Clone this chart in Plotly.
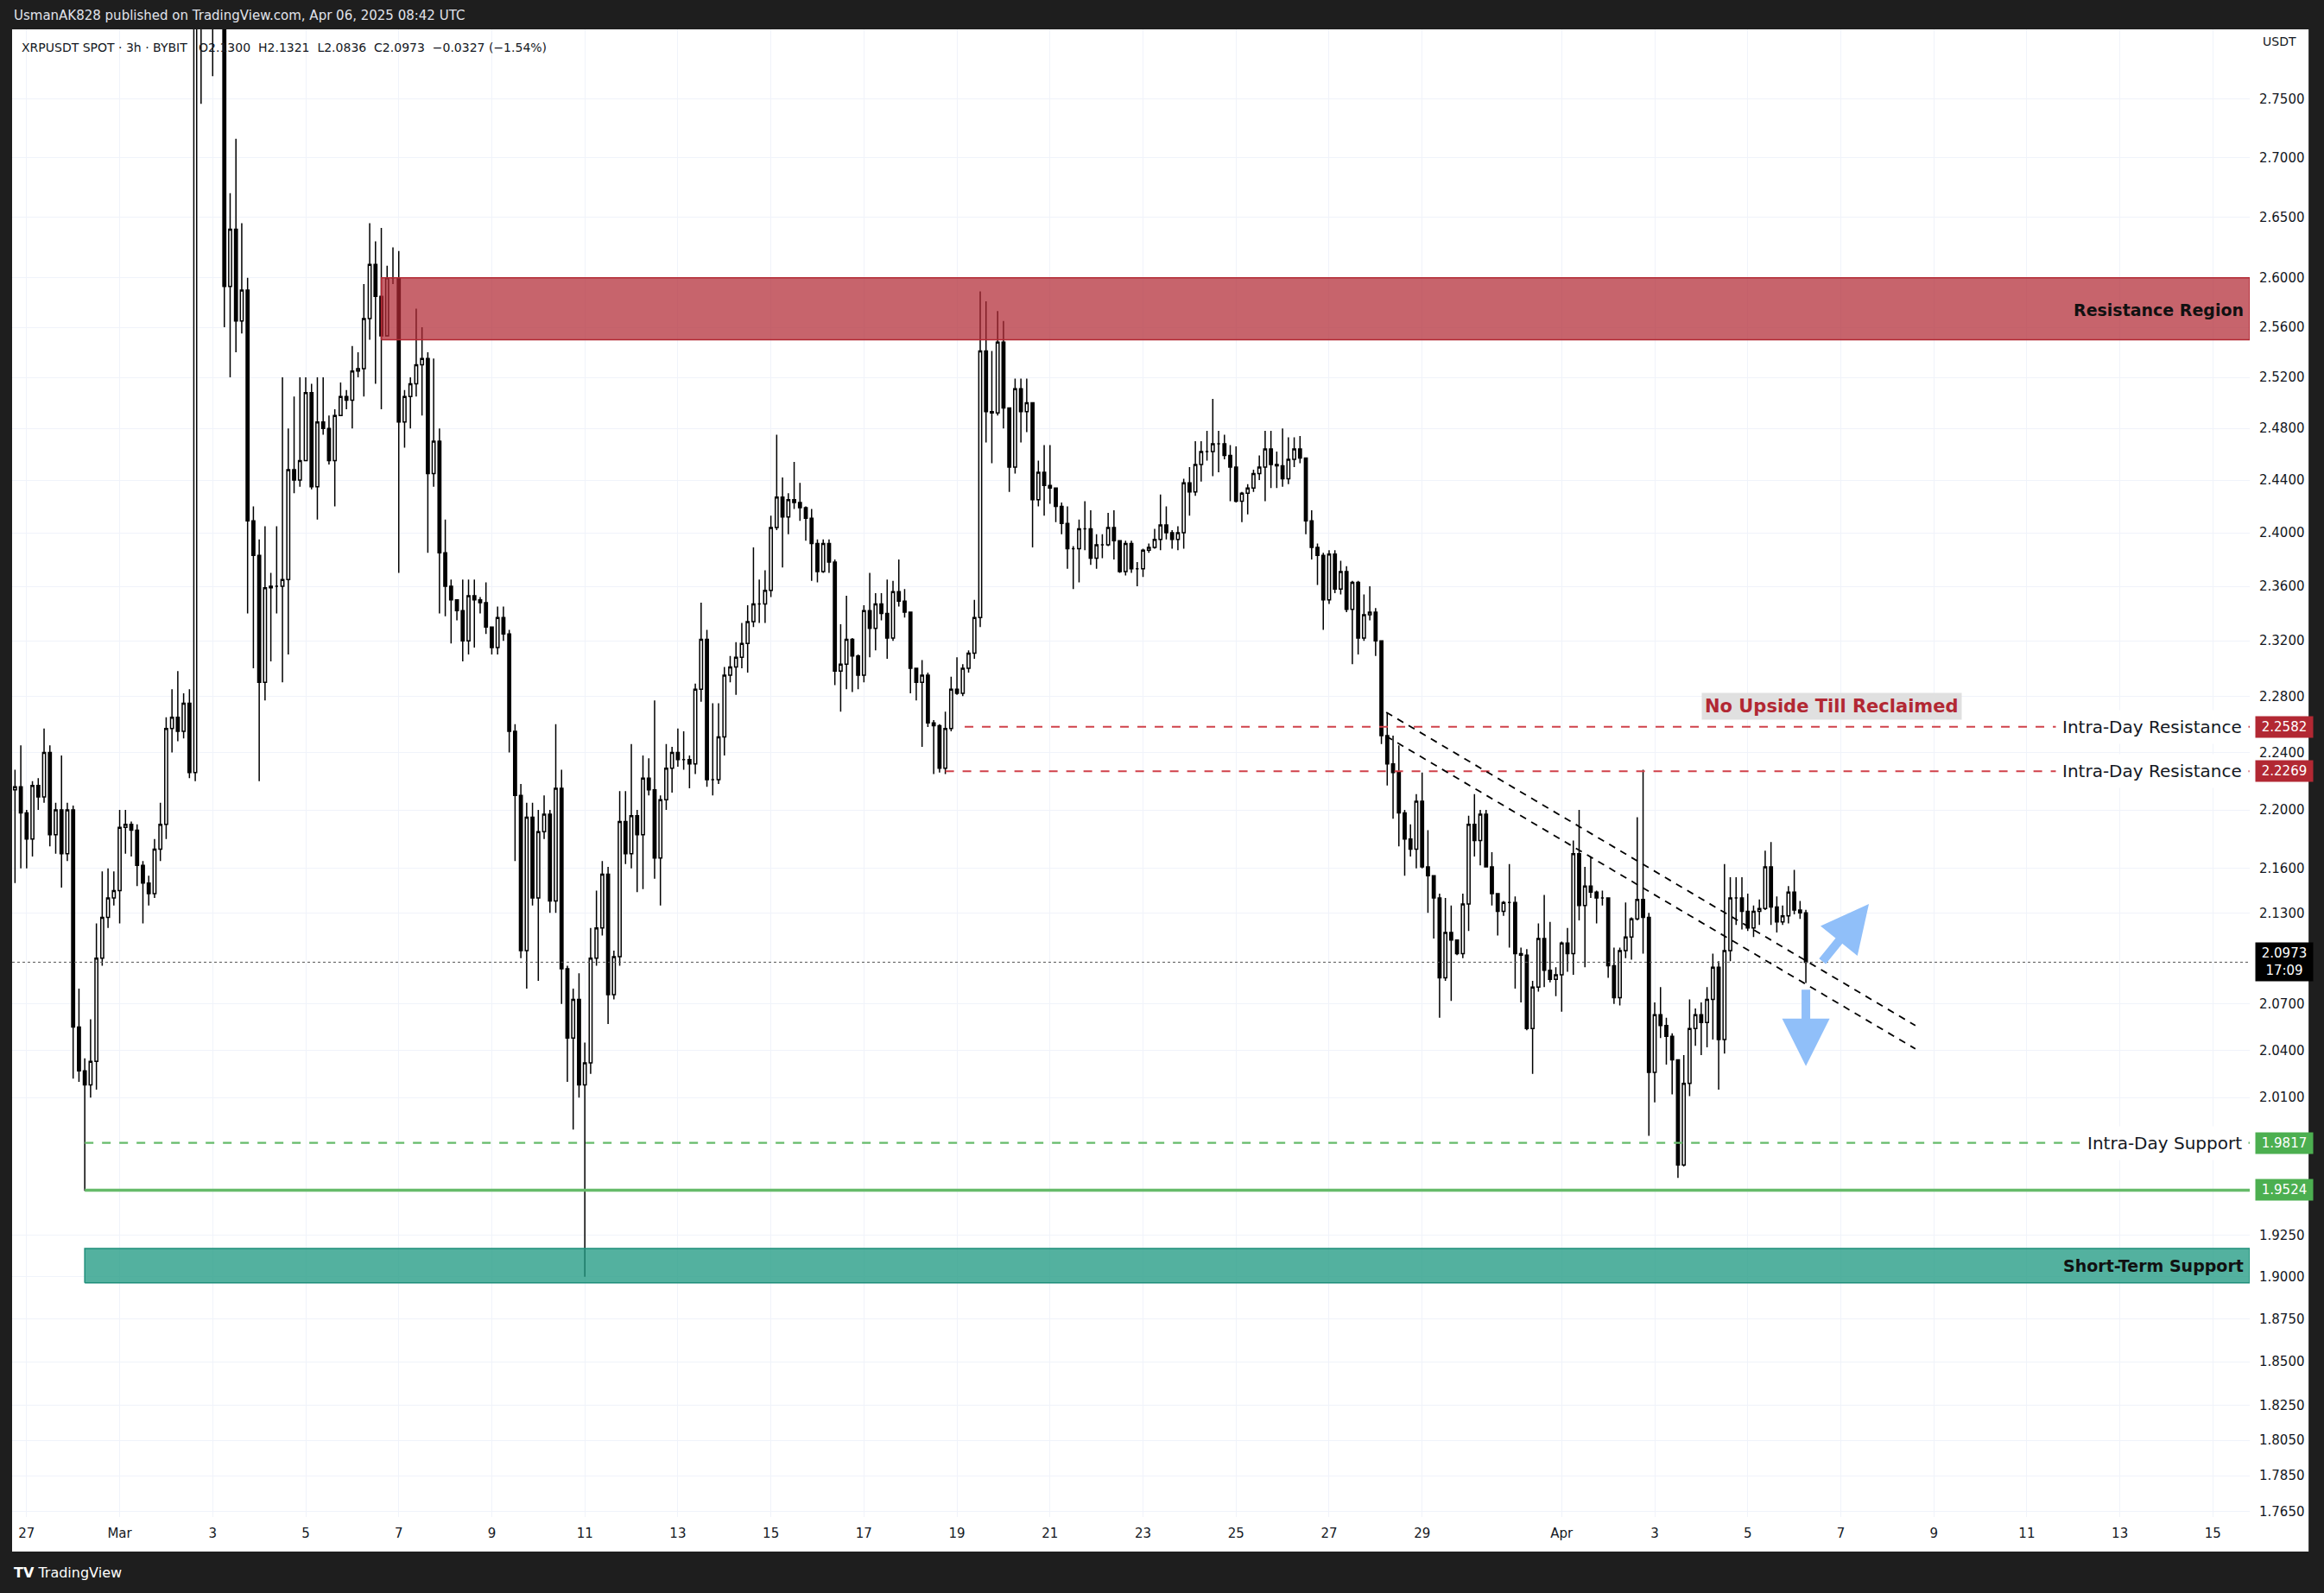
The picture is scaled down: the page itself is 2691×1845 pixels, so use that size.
import math
import pandas as pd
import plotly.graph_objects as go

# ---------------- DATA ----------------
first_open = 2.214
closes = [
2.216,2.198,2.180,2.217,2.209,2.240,2.183,2.200,2.170,2.200,
2.055,2.027,2.018,2.033,2.100,2.127,2.140,2.145,2.188,2.190,
2.186,2.162,2.150,2.143,2.173,2.190,2.257,2.265,2.255,2.275,
2.226,2.880,2.950,2.980,2.920,2.940,2.593,2.640,2.565,2.590,
2.409,2.383,2.290,2.359,2.360,2.360,2.365,2.448,2.440,2.455,
2.508,2.435,2.485,2.480,2.455,2.490,2.505,2.502,2.525,2.527,
2.567,2.611,2.585,2.553,2.600,2.600,2.485,2.505,2.515,2.530,
2.535,2.445,2.470,2.385,2.360,2.350,2.342,2.320,2.353,2.350,
2.348,2.330,2.315,2.337,2.325,2.255,2.210,2.105,2.195,2.140,
2.185,2.197,2.138,2.215,2.093,2.048,2.073,2.018,2.032,2.100,
2.120,2.156,2.076,2.101,2.192,2.170,2.196,2.183,2.222,2.214,
2.167,2.207,2.229,2.240,2.235,2.235,2.232,2.285,2.321,2.221,
2.221,2.251,2.295,2.301,2.308,2.318,2.334,2.347,2.347,2.357,
2.404,2.427,2.412,2.425,2.423,2.419,2.411,2.392,2.371,2.392,
2.378,2.298,2.303,2.321,2.309,2.295,2.342,2.329,2.347,2.340,
2.322,2.356,2.349,2.341,2.300,2.290,2.295,2.261,2.259,2.229,
2.257,2.285,2.282,2.300,2.311,2.337,2.541,2.493,2.492,2.548,
2.496,2.450,2.511,2.493,2.500,2.425,2.446,2.436,2.434,2.420,
2.407,2.388,2.388,2.403,2.403,2.381,2.391,2.391,2.404,2.394,
2.371,2.392,2.373,2.373,2.387,2.389,2.395,2.406,2.400,2.395,
2.400,2.438,2.431,2.452,2.462,2.462,2.468,2.468,2.459,2.450,
2.424,2.430,2.434,2.445,2.450,2.464,2.452,2.451,2.441,2.456,
2.464,2.457,2.409,2.389,2.383,2.350,2.384,2.358,2.371,2.343,
2.363,2.322,2.339,2.341,2.320,2.252,2.232,2.226,2.198,2.180,
2.173,2.206,2.161,2.155,2.140,2.087,2.117,2.112,2.103,2.136,
2.190,2.179,2.197,2.161,2.143,2.131,2.137,2.137,2.103,2.102,
2.054,2.081,2.113,2.092,2.086,2.089,2.110,2.103,2.170,2.135,
2.148,2.144,2.140,2.140,2.095,2.074,2.105,2.114,2.126,2.139,
2.127,2.026,2.063,2.056,2.049,2.034,1.968,2.019,2.054,2.063,
2.058,2.073,2.094,2.047,2.105,2.140,2.140,2.131,2.120,2.131,
2.133,2.161,2.134,2.124,2.128,2.144,2.132,2.130,2.0973]
highs = [
2.228,2.245,2.200,2.220,2.222,2.257,2.245,2.205,2.238,2.205,
2.203,2.080,2.035,2.060,2.123,2.158,2.160,2.158,2.200,2.200,
2.192,2.190,2.165,2.155,2.180,2.205,2.265,2.285,2.298,2.282,
2.285,2.920,2.990,3.000,2.990,2.960,2.950,2.670,2.716,2.645,
2.600,2.420,2.395,2.405,2.370,2.405,2.520,2.480,2.505,2.520,
2.520,2.515,2.520,2.520,2.490,2.495,2.516,2.510,2.545,2.540,
2.595,2.645,2.630,2.641,2.610,2.625,2.622,2.510,2.520,2.575,
2.560,2.540,2.535,2.480,2.410,2.365,2.350,2.365,2.365,2.365,
2.352,2.363,2.330,2.345,2.345,2.328,2.260,2.218,2.205,2.205,
2.200,2.210,2.200,2.260,2.228,2.095,2.080,2.090,2.045,2.120,
2.145,2.165,2.161,2.105,2.213,2.213,2.246,2.200,2.238,2.236,
2.277,2.210,2.246,2.244,2.257,2.255,2.238,2.289,2.348,2.328,
2.275,2.275,2.301,2.309,2.319,2.333,2.346,2.389,2.365,2.372,
2.413,2.475,2.442,2.430,2.454,2.438,2.420,2.418,2.395,2.395,
2.395,2.380,2.332,2.353,2.322,2.310,2.346,2.370,2.355,2.355,
2.365,2.364,2.380,2.358,2.341,2.300,2.306,2.297,2.263,2.260,
2.269,2.294,2.308,2.303,2.313,2.350,2.589,2.581,2.541,2.573,
2.565,2.496,2.519,2.519,2.519,2.500,2.455,2.467,2.467,2.434,
2.423,2.420,2.390,2.410,2.424,2.417,2.399,2.399,2.415,2.417,
2.394,2.394,2.394,2.378,2.388,2.392,2.403,2.429,2.420,2.402,
2.405,2.441,2.450,2.470,2.470,2.478,2.503,2.478,2.475,2.467,
2.466,2.431,2.437,2.448,2.459,2.478,2.478,2.462,2.480,2.473,
2.473,2.474,2.457,2.417,2.392,2.385,2.387,2.387,2.379,2.375,
2.364,2.364,2.354,2.360,2.344,2.320,2.268,2.252,2.245,2.200,
2.190,2.211,2.226,2.186,2.155,2.143,2.140,2.135,2.112,2.143,
2.196,2.211,2.200,2.200,2.171,2.143,2.138,2.163,2.141,2.107,
2.106,2.085,2.123,2.142,2.124,2.094,2.111,2.120,2.179,2.200,
2.161,2.168,2.145,2.145,2.140,2.107,2.107,2.137,2.127,2.195,
2.228,2.130,2.071,2.081,2.061,2.051,2.034,2.037,2.073,2.067,
2.071,2.081,2.103,2.098,2.163,2.154,2.154,2.154,2.143,2.135,
2.139,2.172,2.178,2.141,2.135,2.148,2.159,2.138,2.1321]
lows = [
2.150,2.160,2.160,2.168,2.200,2.205,2.175,2.170,2.147,2.165,
2.022,2.020,1.952,2.010,2.015,2.095,2.120,2.135,2.123,2.170,
2.168,2.148,2.123,2.135,2.140,2.165,2.180,2.240,2.248,2.250,
2.222,2.220,2.746,2.900,2.770,2.860,2.560,2.520,2.540,2.555,
2.340,2.300,2.220,2.277,2.305,2.340,2.290,2.310,2.430,2.435,
2.455,2.433,2.410,2.475,2.452,2.420,2.490,2.495,2.480,2.520,
2.505,2.550,2.515,2.495,2.553,2.595,2.370,2.465,2.480,2.505,
2.490,2.385,2.435,2.340,2.338,2.318,2.335,2.305,2.310,2.315,
2.340,2.325,2.310,2.310,2.320,2.240,2.165,2.100,2.080,2.135,
2.085,2.180,2.130,2.130,2.070,2.020,1.990,2.010,1.900,2.025,
2.095,2.115,2.057,2.073,2.095,2.163,2.160,2.144,2.146,2.210,
2.153,2.135,2.200,2.212,2.230,2.228,2.215,2.225,2.276,2.216,
2.210,2.218,2.238,2.290,2.281,2.300,2.297,2.330,2.333,2.333,
2.352,2.402,2.374,2.399,2.418,2.409,2.394,2.364,2.363,2.370,
2.370,2.288,2.269,2.285,2.283,2.285,2.290,2.308,2.313,2.335,
2.307,2.320,2.345,2.337,2.282,2.277,2.244,2.258,2.225,2.226,
2.225,2.255,2.281,2.280,2.297,2.307,2.330,2.469,2.453,2.490,
2.480,2.431,2.445,2.469,2.477,2.389,2.420,2.413,2.422,2.408,
2.399,2.373,2.358,2.363,2.387,2.376,2.373,2.381,2.390,2.380,
2.370,2.368,2.370,2.360,2.367,2.385,2.388,2.387,2.395,2.388,
2.387,2.388,2.413,2.428,2.439,2.455,2.443,2.446,2.456,2.424,
2.423,2.408,2.414,2.431,2.440,2.424,2.434,2.434,2.435,2.437,
2.450,2.453,2.399,2.380,2.361,2.328,2.347,2.355,2.354,2.341,
2.303,2.310,2.320,2.335,2.309,2.246,2.217,2.194,2.175,2.155,
2.168,2.160,2.160,2.130,2.113,2.061,2.085,2.072,2.102,2.100,
2.118,2.168,2.162,2.161,2.135,2.115,2.128,2.107,2.080,2.071,
2.053,2.025,2.078,2.081,2.084,2.075,2.065,2.091,2.089,2.125,
2.094,2.140,2.123,2.135,2.087,2.070,2.069,2.100,2.099,2.125,
2.103,1.986,2.007,2.048,2.031,2.012,1.960,1.967,2.011,2.043,
2.037,2.042,2.047,2.015,2.038,2.098,2.122,2.119,2.118,2.114,
2.122,2.132,2.122,2.117,2.122,2.123,2.129,2.126,2.0836]
opens = [first_open] + closes[:-1]
assert len(closes) == len(highs) == len(lows) == 309
times = pd.date_range("2025-02-26 18:00", periods=len(closes), freq="3h")

x_ticks = ["2025-02-27", "2025-03-01", "2025-03-03", "2025-03-05", "2025-03-07", "2025-03-09",
           "2025-03-11", "2025-03-13", "2025-03-15", "2025-03-17", "2025-03-19", "2025-03-21",
           "2025-03-23", "2025-03-25", "2025-03-27", "2025-03-29", "2025-04-01", "2025-04-03",
           "2025-04-05", "2025-04-07", "2025-04-09", "2025-04-11", "2025-04-13", "2025-04-15"]
x_labels = ["27", "Mar", "3", "5", "7", "9", "11", "13", "15", "17", "19", "21", "23", "25",
            "27", "29", "Apr", "3", "5", "7", "9", "11", "13", "15"]
y_ticks = [2.75, 2.70, 2.65, 2.60, 2.56, 2.52, 2.48, 2.44, 2.40, 2.36, 2.32, 2.28, 2.24, 2.20,
           2.16, 2.13, 2.07, 2.04, 2.01, 1.925, 1.90, 1.875, 1.85, 1.825, 1.805, 1.785, 1.765]

resistance_zone = (2.550, 2.600)
support_zone = (1.8965, 1.917)
intraday_res = [2.2582, 2.2269]
intraday_sup = 1.9817
key_support = 1.9524
last_price = 2.0973
trend_upper = [2.2685, 2.056]
trend_lower = [2.2515, 2.041]

X_START, X_END = "2025-02-26 16:30", "2025-04-15 19:00"
Y_MIN, Y_MAX = 1.762, 2.811

FONT = "DejaVu Sans"
TXT = "#131722"

fig = go.Figure()

def rect(x0, x1, y0, y1, fill, line):
    fig.add_trace(go.Scatter(x=[x0, x1, x1, x0, x0], y=[y0, y0, y1, y1, y0], mode="lines",
                             fill="toself", fillcolor=fill, line=dict(color=line, width=1.5),
                             hoverinfo="skip", showlegend=False))

def hline(x0, y, color, width, dash="solid"):
    fig.add_trace(go.Scatter(x=[x0, X_END], y=[y, y], mode="lines",
                             line=dict(color=color, width=width, dash=dash),
                             hoverinfo="skip", showlegend=False))

rect("2025-03-06 15:00", X_END, resistance_zone[0], resistance_zone[1], "rgba(178,40,51,0.72)", "#b22833")
rect("2025-02-28 06:00", X_END, support_zone[0], support_zone[1], "rgba(34,155,132,0.78)", "#1e8e7a")

hline(X_START, last_price, "#555555", 1, "dot")
hline("2025-03-19 04:00", intraday_res[0], "#d0414a", 2.2, "10px,10px")
hline("2025-03-18 18:00", intraday_res[1], "#d0414a", 2.2, "10px,10px")
hline("2025-02-28 06:00", intraday_sup, "#66bb6a", 2.2, "10px,10px")
hline("2025-02-28 06:00", key_support, "#66bb6a", 3.5)

for ys in (trend_upper, trend_lower):
    fig.add_trace(go.Scatter(x=["2025-03-28 05:30", "2025-04-08 14:30"], y=ys, mode="lines",
                             line=dict(color="#000000", width=1.8, dash="8px,7px"),
                             hoverinfo="skip", showlegend=False))

fig.add_trace(go.Candlestick(
    x=times, open=opens, high=highs, low=lows, close=closes,
    increasing=dict(fillcolor="#ffffff", line=dict(color="#000000", width=1.5)),
    decreasing=dict(fillcolor="#000000", line=dict(color="#000000", width=1.5)),
    whiskerwidth=0, hoverinfo="skip", showlegend=False))

L = math.log10
ann = []
def label(text, y, size=18, bold=False, color=TXT, bg="#ffffff", x=0.9995):
    ann.append(dict(x=x, xref="paper", y=L(y), yref="y", xanchor="right", yanchor="middle",
                    text=("<b>%s</b>" % text) if bold else text, showarrow=False, bgcolor=bg,
                    font=dict(family=FONT, size=size, color=color), borderpad=7))

label("Resistance Region", 2.574, 19, True, "#111111", "rgba(0,0,0,0)", 1.0005)
label("Short-Term Support", 1.9065, 19, True, "#111111", "rgba(0,0,0,0)", 1.0005)
label("Intra-Day Resistance", intraday_res[0], 20)
label("Intra-Day Resistance", intraday_res[1], 20)
label("Intra-Day Support", intraday_sup, 20)

ann.append(dict(x="2025-04-06 19:30", y=L(2.2727), xref="x", yref="y", text="<b>No Upside Till Reclaimed</b>",
                showarrow=False, bgcolor="#e0e0e0", borderpad=3,
                font=dict(family=FONT, size=21, color="#b22833")))

def price_box(text, y, bg):
    ann.append(dict(x=1.0025, xref="paper", y=L(y), yref="y", xanchor="left", yanchor="middle",
                    text=text, showarrow=False, bgcolor=bg, width=60, align="center", borderpad=3,
                    font=dict(family=FONT, size=15, color="#ffffff")))

price_box("2.2582", intraday_res[0], "#b22833")
price_box("2.2269", intraday_res[1], "#b22833")
price_box("1.9817", intraday_sup, "#4caf50")
price_box("1.9524", key_support, "#4caf50")
price_box("2.0973<br>17:09", last_price, "#000000")

# arrows
ann.append(dict(x="2025-04-07 14:30", y=L(2.136), xref="x", yref="y", ax=-55, ay=68, text="",
                showarrow=True, arrowhead=2, arrowsize=1.1, arrowwidth=10, arrowcolor="#90bff9"))
ann.append(dict(x="2025-04-06 06:00", y=L(2.030), xref="x", yref="y", ax=0, ay=-90, text="",
                showarrow=True, arrowhead=2, arrowsize=1.1, arrowwidth=10, arrowcolor="#90bff9"))

# header / frame texts
ann.append(dict(x=0.0035, y=0.988, xref="paper", yref="paper", xanchor="left", yanchor="middle",
                text="XRPUSDT SPOT · 3h · BYBIT   O2.1300  H2.1321  L2.0836  C2.0973  −0.0327 (−1.54%)",
                showarrow=False, font=dict(family=FONT, size=14, color=TXT)))
ann.append(dict(x=0.0, y=1.0095, xref="paper", yref="paper", xanchor="left", yanchor="middle",
                text="UsmanAK828 published on TradingView.com, Apr 06, 2025 08:42 UTC",
                showarrow=False, font=dict(family=FONT, size=15, color="#e0e3eb")))
ann.append(dict(x=0.0, y=-0.0375, xref="paper", yref="paper", xanchor="left", yanchor="middle",
                text="<b>TV</b> TradingView", showarrow=False,
                font=dict(family=FONT, size=16, color="#ffffff")))
ann.append(dict(x=1.0135, y=0.992, xref="paper", yref="paper", xanchor="center", yanchor="middle",
                text="USDT", showarrow=False, font=dict(family=FONT, size=14, color=TXT)))

shapes = [dict(type="rect", xref="paper", yref="paper", x0=0, x1=1.0263, y0=-0.0232, y1=1.0,
               fillcolor="#ffffff", line=dict(width=0), layer="below")]

fig.update_layout(
    width=2691, height=1845, autosize=False,
    margin=dict(l=14, r=86, t=34, b=88),
    paper_bgcolor="#1e1e1e", plot_bgcolor="#ffffff",
    showlegend=False, annotations=ann, shapes=shapes, hovermode=False,
    xaxis=dict(type="date", range=[X_START, X_END], rangeslider=dict(visible=False),
               tickvals=x_ticks, ticktext=x_labels, showgrid=True, gridcolor="#f0f3fa",
               zeroline=False, ticks="", ticklabelstandoff=8,
               tickfont=dict(family=FONT, size=15, color=TXT), showline=False),
    yaxis=dict(type="log", side="right", range=[L(Y_MIN), L(Y_MAX)],
               tickvals=y_ticks, ticktext=["%.4f" % v for v in y_ticks],
               showgrid=True, gridcolor="#f0f3fa", zeroline=False, ticks="",
               ticklabelstandoff=10, tickfont=dict(family=FONT, size=15, color=TXT), showline=False),
)

fig.write_html("out.html", config={"displayModeBar": False},
               post_script="document.body.style.margin='0';document.body.style.background='#1e1e1e';")
